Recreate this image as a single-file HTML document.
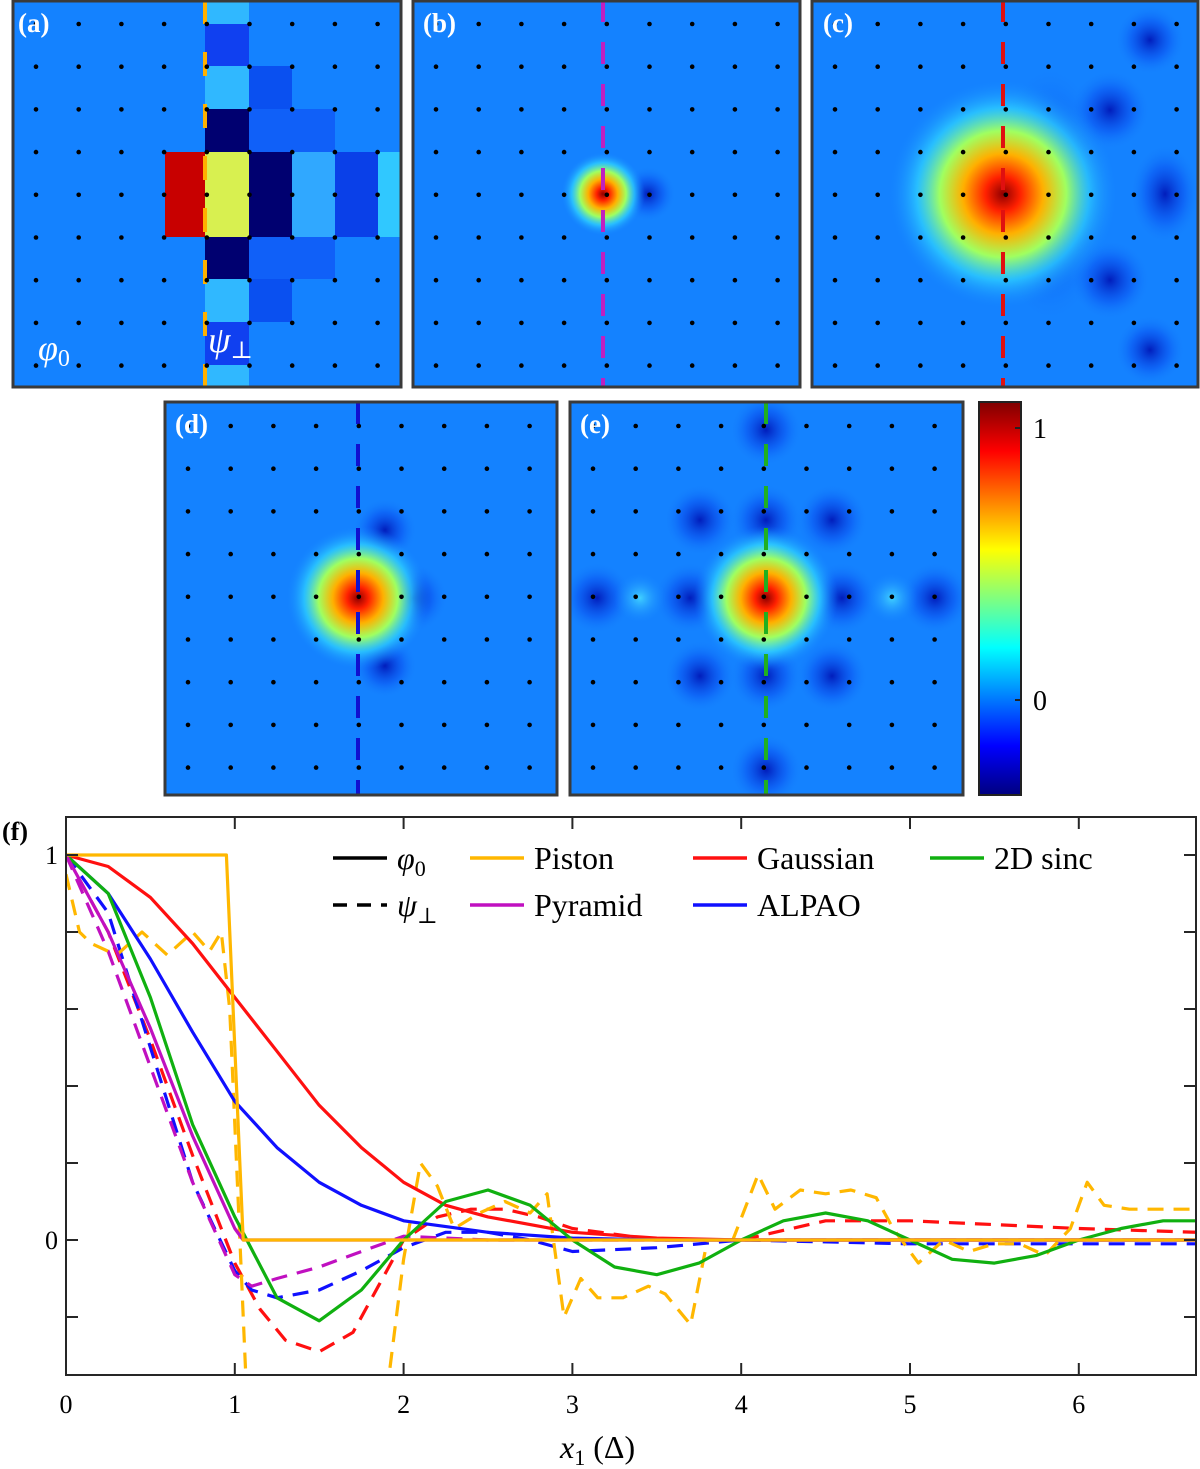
<!DOCTYPE html>
<html><head><meta charset="utf-8">
<style>
html,body{margin:0;padding:0;background:#fff;}
svg{display:block;font-family:"Liberation Serif","DejaVu Serif",serif;}
</style></head>
<body>
<svg id="fig" width="1200" height="1469" viewBox="0 0 1200 1469" xmlns="http://www.w3.org/2000/svg">
<defs>
  <radialGradient id="blobS">
    <stop offset="0" stop-color="#900000"/><stop offset="0.15" stop-color="#ff2000"/>
    <stop offset="0.35" stop-color="#ffb000"/><stop offset="0.55" stop-color="#a0ff60"/>
    <stop offset="0.75" stop-color="#30d8ff" stop-opacity="0.7"/>
    <stop offset="1" stop-color="#1482ff" stop-opacity="0"/>
  </radialGradient>
  <radialGradient id="dark">
    <stop offset="0" stop-color="#0018b8" stop-opacity="0.95"/>
    <stop offset="0.55" stop-color="#0a50f0" stop-opacity="0.55"/>
    <stop offset="1" stop-color="#1482ff" stop-opacity="0"/>
  </radialGradient>
  <radialGradient id="light">
    <stop offset="0" stop-color="#40d0ff"/><stop offset="1" stop-color="#1482ff" stop-opacity="0"/>
  </radialGradient>
  <linearGradient id="jet" x1="0" y1="1" x2="0" y2="0">
    <stop offset="0" stop-color="#00007f"/><stop offset="0.125" stop-color="#0000ff"/>
    <stop offset="0.375" stop-color="#00ffff"/><stop offset="0.625" stop-color="#ffff00"/>
    <stop offset="0.875" stop-color="#ff0000"/><stop offset="1" stop-color="#7f0000"/>
  </linearGradient>
  <clipPath id="ca"><rect x="13" y="0" width="388" height="387"/></clipPath>
  <clipPath id="cb"><rect x="413" y="0" width="387" height="387"/></clipPath>
  <clipPath id="cc"><rect x="812" y="0" width="387" height="387"/></clipPath>
  <clipPath id="cd"><rect x="165" y="402" width="392" height="393"/></clipPath>
  <clipPath id="ce"><rect x="570" y="402" width="393" height="393"/></clipPath>
  <clipPath id="cf"><rect x="66" y="817" width="1130" height="558"/></clipPath>
</defs>

<g id="pa" clip-path="url(#ca)">
  <rect x="13" y="0" width="388" height="387" fill="#1482ff"/>
  <rect x="205" y="0" width="44" height="387" fill="#30b8ff"/>
  <rect x="205" y="24" width="44" height="42" fill="#1040f0"/>
  <rect x="205" y="322" width="44" height="43" fill="#1040f0"/>
  <rect x="205" y="109" width="44" height="43" fill="#000070"/>
  <rect x="205" y="237" width="44" height="42" fill="#000070"/>
  <rect x="165" y="152" width="40" height="85" fill="#c80000"/>
  <rect x="205" y="152" width="44" height="85" fill="#d8f050"/>
  <rect x="249" y="152" width="43" height="85" fill="#000070"/>
  <rect x="249" y="66" width="43" height="43" fill="#0a50f0"/>
  <rect x="249" y="279" width="43" height="43" fill="#0a50f0"/>
  <rect x="249" y="109" width="86" height="43" fill="#1060f8"/>
  <rect x="249" y="237" width="86" height="42" fill="#1060f8"/>
  <rect x="292" y="152" width="43" height="85" fill="#30a8ff"/>
  <rect x="335" y="152" width="43" height="85" fill="#0a40e8"/>
  <rect x="378" y="152" width="23" height="85" fill="#30c8ff"/>
  <line x1="205" y1="0" x2="205" y2="387" stroke="#ffb000" stroke-width="4" stroke-dasharray="24 28"/>
  <text x="38" y="360" fill="#fff" font-size="36" font-style="italic">φ<tspan font-size="24" dy="6" font-style="normal">0</tspan></text>
  <text x="208" y="352" fill="#fff" font-size="36" font-style="italic">ψ<tspan font-size="24" dy="6" font-style="normal">⊥</tspan></text>
</g>
<g clip-path="url(#cb)">
  <rect x="413" y="0" width="387" height="387" fill="#1482ff"/>
  <circle cx="648" cy="194" r="28" fill="url(#dark)"/>
  <circle cx="603" cy="194" r="42" fill="url(#blobS)"/>
  <line x1="603" y1="0" x2="603" y2="387" stroke="#c020c0" stroke-width="4" stroke-dasharray="22 20"/>
</g>
<g clip-path="url(#cc)">
  <rect x="812" y="0" width="387" height="387" fill="#1482ff"/>
  <ellipse cx="1050" cy="194" rx="60" ry="130" fill="url(#dark)"/>
  <ellipse cx="1110" cy="110" rx="40" ry="40" fill="url(#dark)"/>
  <ellipse cx="1110" cy="280" rx="40" ry="40" fill="url(#dark)"/>
  <ellipse cx="1165" cy="194" rx="35" ry="50" fill="url(#dark)"/>
  <ellipse cx="1150" cy="40" rx="35" ry="35" fill="url(#dark)"/>
  <ellipse cx="1150" cy="350" rx="35" ry="35" fill="url(#dark)"/>
  <circle cx="1003" cy="194" r="115" fill="url(#blobS)"/>
  <line x1="1003" y1="0" x2="1003" y2="387" stroke="#e01010" stroke-width="4" stroke-dasharray="22 20"/>
</g>
<g clip-path="url(#cd)">
  <rect x="165" y="402" width="392" height="393" fill="#1482ff"/>
  <circle cx="413" cy="598" r="35" fill="url(#dark)"/>
  <circle cx="385" cy="530" r="32" fill="url(#dark)"/>
  <circle cx="385" cy="666" r="32" fill="url(#dark)"/>
  <circle cx="358" cy="598" r="72" fill="url(#blobS)"/>
  <line x1="358" y1="402" x2="358" y2="795" stroke="#1010d0" stroke-width="4" stroke-dasharray="22 20"/>
</g>
<g clip-path="url(#ce)">
  <rect x="570" y="402" width="393" height="393" fill="#1482ff"/>
  <g id="eblobs"></g>
  <circle cx="766" cy="598" r="72" fill="url(#blobS)"/>
  <line x1="766" y1="402" x2="766" y2="795" stroke="#20b020" stroke-width="4" stroke-dasharray="22 20"/>
</g>
<g id="dots"></g>
<g fill="none" stroke="#3a3a3a" stroke-width="3">
  <rect x="13" y="1" width="388" height="386"/><rect x="413" y="1" width="387" height="386"/><rect x="812" y="1" width="386" height="386"/>
  <rect x="165" y="402" width="392" height="393"/><rect x="570" y="402" width="393" height="393"/>
</g>
<g font-size="27" font-weight="bold" fill="#fff">
  <text x="18" y="32">(a)</text><text x="423" y="32">(b)</text><text x="823" y="32">(c)</text>
  <text x="175" y="433">(d)</text><text x="580" y="433">(e)</text>
</g>
<g>
  <rect x="979" y="402" width="42" height="393" fill="url(#jet)" stroke="#222" stroke-width="2"/>
  <text x="1033" y="438" font-size="28">1</text>
  <text x="1033" y="710" font-size="28">0</text>
  <line x1="1015" y1="428" x2="1021" y2="428" stroke="#222" stroke-width="2"/>
  <line x1="1015" y1="700" x2="1021" y2="700" stroke="#222" stroke-width="2"/>
</g>

<g id="pf">
  <g id="curves" clip-path="url(#cf)"></g>
  <g id="axes"></g>
  <rect x="66" y="817" width="1130" height="558" fill="none" stroke="#262626" stroke-width="2"/>
  <text x="2" y="840" font-size="26" font-weight="bold">(f)</text>
  <text x="560" y="1458" font-size="32" font-style="italic">x<tspan font-size="22" dy="7" font-style="normal">1</tspan><tspan dy="-7" font-style="normal"> (Δ)</tspan></text>
  <g id="legend" font-size="32"></g>
</g>
</svg>
<script>
const NS="http://www.w3.org/2000/svg";
function mk(tag,attrs,parent){const e=document.createElementNS(NS,tag);for(const k in attrs)e.setAttribute(k,attrs[k]);parent.appendChild(e);return e;}
const dotsG=document.getElementById('dots');
const panels=[[36,24,42.7],[436,24,42.7],[835,24,42.7],[188,426,42.7],[593,426,42.7]];
panels.forEach(p=>{for(let i=0;i<9;i++)for(let j=0;j<9;j++){mk('circle',{cx:p[0]+i*p[2],cy:p[1]+j*p[2],r:2.3,fill:'#000'},dotsG);}});
const eb=document.getElementById('eblobs');
[[690,598,1],[842,598,1],[766,520,1],[766,676,1],[597,598,1],[935,598,1],[766,430,1],[766,770,1],[728,598,0],[804,598,0],[640,598,0],[892,598,0],[766,555,0],[766,641,0],[700,520,1],[832,520,1],[700,676,1],[832,676,1]].forEach(b=>{
  mk('circle',{cx:b[0],cy:b[1],r:b[2]?36:26,fill:b[2]?'url(#dark)':'url(#light)'},eb);
});

// ---- chart data ----
const xTicks=[0,1,2,3,4,5,6];
const yTicks=[-0.2,0,0.2,0.4,0.6,0.8,1];
const yLabels=[0,1];
const pistonX=[0,0.95,1.05,6.7];
const pistonY=[1,1,0,0];
const gaussX=[0,0.25,0.5,0.75,1,1.25,1.5,1.75,2,2.25,2.5,3,3.5,4,6.7];
const gaussY=[1,0.97,0.89,0.77,0.63,0.49,0.35,0.24,0.15,0.09,0.06,0.02,0.005,0,0];
const sincX=[0,0.25,0.5,0.75,1,1.25,1.5,1.75,2,2.25,2.5,2.75,3,3.25,3.5,3.75,4,4.25,4.5,4.75,5,5.25,5.5,5.75,6,6.25,6.5,6.7];
const sincY=[1,0.9,0.63,0.3,0.06,-0.15,-0.21,-0.13,0.0,0.1,0.13,0.09,0.0,-0.07,-0.09,-0.06,0.0,0.05,0.07,0.05,0.0,-0.05,-0.06,-0.04,0.0,0.03,0.05,0.05];
const pyrX=[0,0.25,0.5,0.75,1,1.05,6.7];
const pyrY=[1,0.8,0.55,0.27,0.03,0,0];
const alpaoX=[0,0.25,0.5,0.75,1,1.25,1.5,1.75,2,2.5,3,3.5,6.7];
const alpaoY=[1,0.9,0.73,0.54,0.36,0.24,0.15,0.09,0.05,0.02,0.005,0,0];
const pistonDX=[0,0.08,0.15,0.3,0.45,0.6,0.75,0.85,0.92,0.97,1.02,1.07,1.9,2.0,2.1,2.2,2.3,2.45,2.6,2.75,2.85,2.95,3.05,3.15,3.3,3.45,3.55,3.7,3.8,3.95,4.1,4.2,4.35,4.5,4.65,4.8,4.9,5.05,5.2,5.35,5.5,5.65,5.8,5.95,6.05,6.15,6.3,6.5,6.7];
const pistonDY=[0.95,0.8,0.77,0.74,0.8,0.74,0.8,0.75,0.8,0.6,0.1,-0.4,-0.4,-0.05,0.2,0.14,0.03,0.07,0.1,0.07,0.12,-0.2,-0.1,-0.15,-0.15,-0.12,-0.14,-0.22,0.0,0.0,0.17,0.08,0.13,0.12,0.13,0.11,0.03,-0.06,0.0,-0.03,-0.01,-0.01,-0.04,0.03,0.15,0.09,0.08,0.08,0.08];
const gaussDX=[0,0.25,0.5,0.75,1,1.15,1.3,1.5,1.7,1.85,2,2.2,2.4,2.6,2.8,3,3.5,4,4.5,5,5.5,6,6.7];
const gaussDY=[1,0.8,0.52,0.22,-0.06,-0.18,-0.26,-0.29,-0.24,-0.12,0.0,0.06,0.08,0.08,0.06,0.03,0.0,0.0,0.05,0.05,0.04,0.03,0.02];
const pyrDX=[0,0.25,0.5,0.75,1,1.1,1.25,1.5,1.75,2,2.5,6.7];
const pyrDY=[1,0.75,0.45,0.15,-0.09,-0.12,-0.1,-0.07,-0.03,0.01,0,0];
const alpaoDX=[0,0.25,0.5,0.75,1,1.1,1.25,1.5,1.75,2,2.25,2.5,2.75,3,3.5,4,5,6.7];
const alpaoDY=[1,0.85,0.5,0.15,-0.08,-0.13,-0.15,-0.13,-0.08,-0.02,0.02,0.02,0.0,-0.03,-0.02,0,-0.01,-0.01];

const X0=66,XS=168.8,Y0=1240,YS=385;
const sx=x=>X0+x*XS, sy=y=>Y0-y*YS;
const cg=document.getElementById('curves');
function drawLine(xs,ys,color,dash,name){
  const d=xs.map((x,i)=>(i?'L':'M')+sx(x).toFixed(1)+' '+sy(ys[i]).toFixed(1)).join(' ');
  const p=mk('path',{d:d,fill:'none',stroke:color,'stroke-width':3.2,'stroke-dasharray':dash?'16 10':'none','stroke-linejoin':'round'},cg);
  
  
}
drawLine(gaussDX,gaussDY,'#ff1010',true,'gaussian-psi-line');
drawLine(alpaoDX,alpaoDY,'#1010ff',true,'alpao-psi-line');
drawLine(pyrDX,pyrDY,'#c010c0',true,'pyramid-psi-line');
drawLine(pistonDX,pistonDY,'#ffb700',true,'piston-psi-line');
drawLine(gaussX,gaussY,'#ff1010',false,'gaussian-phi-line');
drawLine(alpaoX,alpaoY,'#1010ff',false,'alpao-phi-line');
drawLine(sincX,sincY,'#10b010',false,'sinc-phi-line');
drawLine(pyrX,pyrY,'#c010c0',false,'pyramid-phi-line');
drawLine(pistonX,pistonY,'#ffb700',false,'piston-phi-line');

const ax=document.getElementById('axes');
xTicks.forEach(t=>{
  mk('line',{x1:sx(t),y1:1375,x2:sx(t),y2:1363,stroke:'#262626','stroke-width':2},ax);
  mk('line',{x1:sx(t),y1:817,x2:sx(t),y2:829,stroke:'#262626','stroke-width':2},ax);
  const tx=mk('text',{x:sx(t),y:1413,'font-size':26,'text-anchor':'middle'},ax);tx.textContent=t;
  
  
});
yTicks.forEach(t=>{
  mk('line',{x1:66,y1:sy(t),x2:78,y2:sy(t),stroke:'#262626','stroke-width':2},ax);
  mk('line',{x1:1196,y1:sy(t),x2:1184,y2:sy(t),stroke:'#262626','stroke-width':2},ax);
});
yLabels.forEach(t=>{
  const tx=mk('text',{x:58,y:sy(t)+9,'font-size':26,'text-anchor':'end'},ax);tx.textContent=t;
  
  
});
const lg=document.getElementById('legend');
const legItems=[[333,858,'#000',false,'φ','0'],[470,858,'#ffb700',false,'Piston',''],[693,858,'#ff1010',false,'Gaussian',''],[930,858,'#10b010',false,'2D sinc',''],
 [333,905,'#000',true,'ψ','⊥'],[470,905,'#c010c0',false,'Pyramid',''],[693,905,'#1010ff',false,'ALPAO','']];
legItems.forEach(it=>{
  const g=mk('g',{},lg);
  
  
  mk('line',{x1:it[0],y1:it[1],x2:it[0]+54,y2:it[1],stroke:it[2],'stroke-width':3.5,'stroke-dasharray':it[3]?'14 10':'none'},g);
  const t=mk('text',{x:it[0]+64,y:it[1]+11},g);
  if(it[5]){t.setAttribute('font-style','italic');t.textContent=it[4];const s=mk('tspan',{'font-size':22,dy:7,'font-style':'normal'},t);s.textContent=it[5];}
  else t.textContent=it[4];
});
</script>
</body></html>
